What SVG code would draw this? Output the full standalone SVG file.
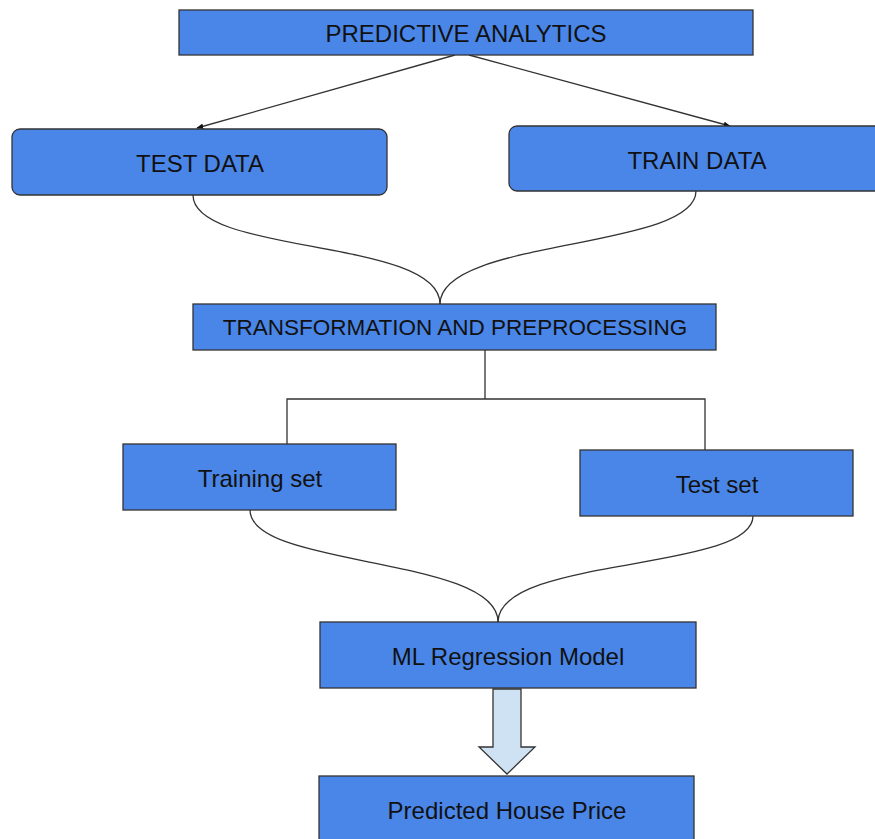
<svg xmlns="http://www.w3.org/2000/svg" width="875" height="839" viewBox="0 0 875 839">
<defs>
<style>
.box{fill:#4a86e8;stroke:#333;stroke-width:1.3}
.t{font-family:"Liberation Sans",Arial,sans-serif;font-size:24px;fill:#111;text-anchor:middle;dominant-baseline:central}
.c{fill:none;stroke:#333;stroke-width:1.3}
.blk{fill:#cfe2f3;stroke:#333;stroke-width:1.3}
</style>
<marker id="ah" viewBox="0 0 10 10" refX="9" refY="5" markerWidth="7" markerHeight="7" markerUnits="userSpaceOnUse" orient="auto">
<path d="M0,1 L10,5 L0,9 Z" fill="#111"/>
</marker>
</defs>
<rect width="875" height="839" fill="#fff"/>
<g id="connectors">
<line class="c" x1="455" y1="55" x2="197" y2="128" marker-end="url(#ah)"/>
<line class="c" x1="469" y1="55" x2="730" y2="126" marker-end="url(#ah)"/>
<path class="c" d="M193,195 C193,255 440,238 440,304"/>
<path class="c" d="M696,191 C696,250 440,238 440,304"/>
<path class="c" d="M485,350 V399 M287,444 V399 H705 V450"/>
<path class="c" d="M250,510 C250,568 498,556 498,622"/>
<path class="c" d="M753,516 C753,572 498,556 498,622"/>
<path class="blk" d="M493,689 H521 V747 H535 L507,774 L479,747 H493 Z"/>
</g>
<g id="predictive-analytics">
<rect class="box" x="179" y="10" width="574" height="45"/>
<text class="t" x="466" y="33">PREDICTIVE ANALYTICS</text>
</g>
<g id="test-data">
<rect class="box" x="12" y="129" width="375" height="66" rx="8"/>
<text class="t" x="200" y="163">TEST DATA</text>
</g>
<g id="train-data">
<rect class="box" x="509" y="126" width="380" height="65" rx="8"/>
<text class="t" x="697" y="160">TRAIN DATA</text>
</g>
<g id="transformation">
<rect class="box" x="193" y="304" width="523" height="46"/>
<text class="t" x="455" y="327" style="font-size:22.5px">TRANSFORMATION AND PREPROCESSING</text>
</g>
<g id="training-set">
<rect class="box" x="123" y="444" width="273" height="66"/>
<text class="t" x="260" y="478">Training set</text>
</g>
<g id="test-set">
<rect class="box" x="580" y="450" width="273" height="66"/>
<text class="t" x="717" y="484">Test set</text>
</g>
<g id="ml-model">
<rect class="box" x="320" y="622" width="376" height="66"/>
<text class="t" x="508" y="656">ML Regression Model</text>
</g>
<g id="predicted-price">
<rect class="box" x="319" y="776" width="375" height="70"/>
<text class="t" x="507" y="810">Predicted House Price</text>
</g>
</svg>
